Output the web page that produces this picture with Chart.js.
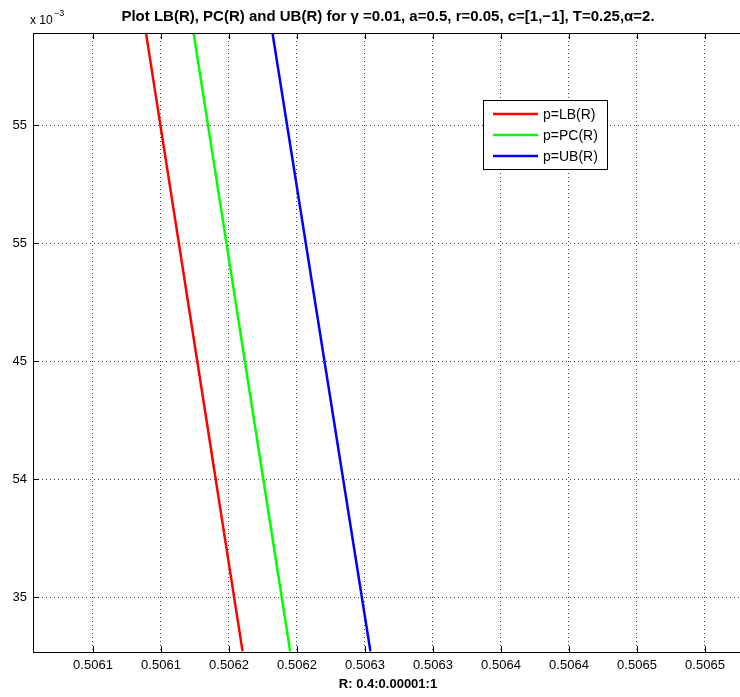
<!DOCTYPE html>
<html>
<head>
<meta charset="utf-8">
<script src="https://cdn.jsdelivr.net/npm/chart.js@4.4.0/dist/chart.umd.min.js"></script>
<style>
  html, body { margin: 0; padding: 0; overflow: hidden; background: #fff; }
  canvas { display: block; }
</style>
</head>
<body>
<canvas id="plot" width="760" height="697"></canvas>
<script>
// values
var pVals = [0.05589, 0.05327];          // p at top / bottom edge of the axes
var lbR = [0.506139, 0.506210];
var pcR = [0.506174, 0.506245];
var ubR = [0.506232, 0.506304];

var xTickValues = [0.50610, 0.50615, 0.50620, 0.50625, 0.50630, 0.50635, 0.50640, 0.50645, 0.50650, 0.50655];
var xTickLabels = ['0.5061', '0.5061', '0.5062', '0.5062', '0.5063', '0.5063', '0.5064', '0.5064', '0.5065', '0.5065'];
var yTickValues = [0.0555, 0.0550, 0.0545, 0.0540, 0.0535];
var yTickLabels = ['55', '55', '45', '54', '35'];

var seriesNames = ['p=LB(R)', 'p=PC(R)', 'p=UB(R)'];
var seriesColors = ['#ff0000', '#00ff00', '#0000ff'];
var seriesR = [lbR, pcR, ubR];

var FONT = 'Helvetica, "Liberation Sans", Arial, sans-serif';

function pts(rs) {
    return rs.map(function (r, i) { return { x: r, y: pVals[i] }; });
}

// legend box, inner tick marks, axes box and exponent label
var matlabBits = {
    id: 'matlabBits',
    afterDraw: function (chart) {
        var c = chart.ctx, a = chart.chartArea;
        var xs = chart.scales.x, ys = chart.scales.y;
        c.save();
        c.strokeStyle = '#000';
        c.lineWidth = 1;
        c.setLineDash([]);
        c.beginPath();
        c.moveTo(a.left, a.top + 0.5);
        c.lineTo(a.right, a.top + 0.5);
        c.moveTo(a.left + 0.5, a.top);
        c.lineTo(a.left + 0.5, a.bottom + 1);
        c.moveTo(a.left, a.bottom + 0.5);
        c.lineTo(a.right, a.bottom + 0.5);
        xTickValues.forEach(function (v) {
            var px = Math.round(xs.getPixelForValue(v)) + 0.5;
            c.moveTo(px, a.bottom); c.lineTo(px, a.bottom - 6);
            c.moveTo(px, a.top); c.lineTo(px, a.top + 6);
        });
        yTickValues.forEach(function (v) {
            var py = Math.round(ys.getPixelForValue(v)) + 0.5;
            c.moveTo(a.left, py); c.lineTo(a.left + 6, py);
        });
        c.stroke();

        // x 10^-3
        c.fillStyle = '#000';
        c.textBaseline = 'alphabetic';
        c.textAlign = 'left';
        c.font = '12px ' + FONT;
        c.fillText('x 10', 30, 24);
        c.font = '9px ' + FONT;
        c.fillText('\u22123', 54, 16);

        // legend
        var bx = 483, by = 100, bw = 124, bh = 69;
        c.fillStyle = '#fff';
        c.fillRect(bx, by, bw, bh);
        c.strokeStyle = '#000';
        c.strokeRect(bx + 0.5, by + 0.5, bw, bh);
        c.font = '14px ' + FONT;
        c.textBaseline = 'middle';
        chart.data.datasets.forEach(function (ds, i) {
            var yy = by + 14 + i * 21;
            c.strokeStyle = ds.borderColor;
            c.lineWidth = 2.5;
            c.beginPath();
            c.moveTo(bx + 10, yy);
            c.lineTo(bx + 55, yy);
            c.stroke();
            c.fillStyle = '#000';
            c.fillText(ds.label, bx + 60, yy + 1);
        });
        c.restore();
    }
};

new Chart(document.getElementById('plot').getContext('2d'), {
    type: 'line',
    data: {
        datasets: seriesNames.map(function (name, i) {
            return {
                label: name,
                data: pts(seriesR[i]),
                borderColor: seriesColors[i],
                borderWidth: 2.5,
                pointRadius: 0,
                fill: false,
                tension: 0
            };
        })
    },
    options: {
        responsive: false,
        animation: false,
        devicePixelRatio: 1,
        layout: { padding: { left: 0, right: 17, top: 0, bottom: 0 } },
        plugins: {
            legend: { display: false },
            tooltip: { enabled: false },
            title: {
                display: true,
                fullSize: false,
                text: 'Plot LB(R), PC(R) and UB(R) for \u03b3 =0.01, a=0.5, r=0.05, c=[1,\u22121], T=0.25,\u03b1=2.',
                color: '#000',
                font: { family: FONT, size: 15, weight: 'bold', lineHeight: 1.2 },
                padding: { top: 8, bottom: 7 }
            }
        },
        scales: {
            x: {
                type: 'linear',
                min: 0.5060559,
                max: 0.5060559 + 710 * 0.00005 / 68,
                afterBuildTicks: function (s) {
                    s.ticks = xTickValues.map(function (v) { return { value: v }; });
                },
                afterFit: function (s) { s.height = 45; },
                ticks: {
                    color: '#000',
                    padding: 6,
                    maxRotation: 0,
                    autoSkip: false,
                    font: { family: FONT, size: 13 },
                    callback: function (v, i) { return xTickLabels[i]; }
                },
                grid: {
                    color: '#444',
                    lineWidth: 1,
                    drawTicks: false,
                    tickLength: 0
                },
                border: { display: true, color: '#000', width: 1, dash: [1, 3] },
                title: {
                    display: true,
                    text: 'R: 0.4:0.00001:1',
                    color: '#000',
                    font: { family: FONT, size: 13, weight: 'bold', lineHeight: 1.2 },
                    padding: { top: 0, bottom: 5 }
                }
            },
            y: {
                type: 'linear',
                min: 0.053267,
                max: 0.05589,
                afterBuildTicks: function (s) {
                    s.ticks = yTickValues.map(function (v) { return { value: v }; });
                },
                afterFit: function (s) { s.width = 33; },
                ticks: {
                    color: '#000',
                    padding: 6,
                    autoSkip: false,
                    font: { family: FONT, size: 13 },
                    callback: function (v, i) { return yTickLabels[i]; }
                },
                grid: {
                    color: '#444',
                    lineWidth: 1,
                    drawTicks: false,
                    tickLength: 0
                },
                border: { display: true, color: '#000', width: 1, dash: [1, 3] }
            }
        }
    },
    plugins: [matlabBits]
});
</script>
</body>
</html>
